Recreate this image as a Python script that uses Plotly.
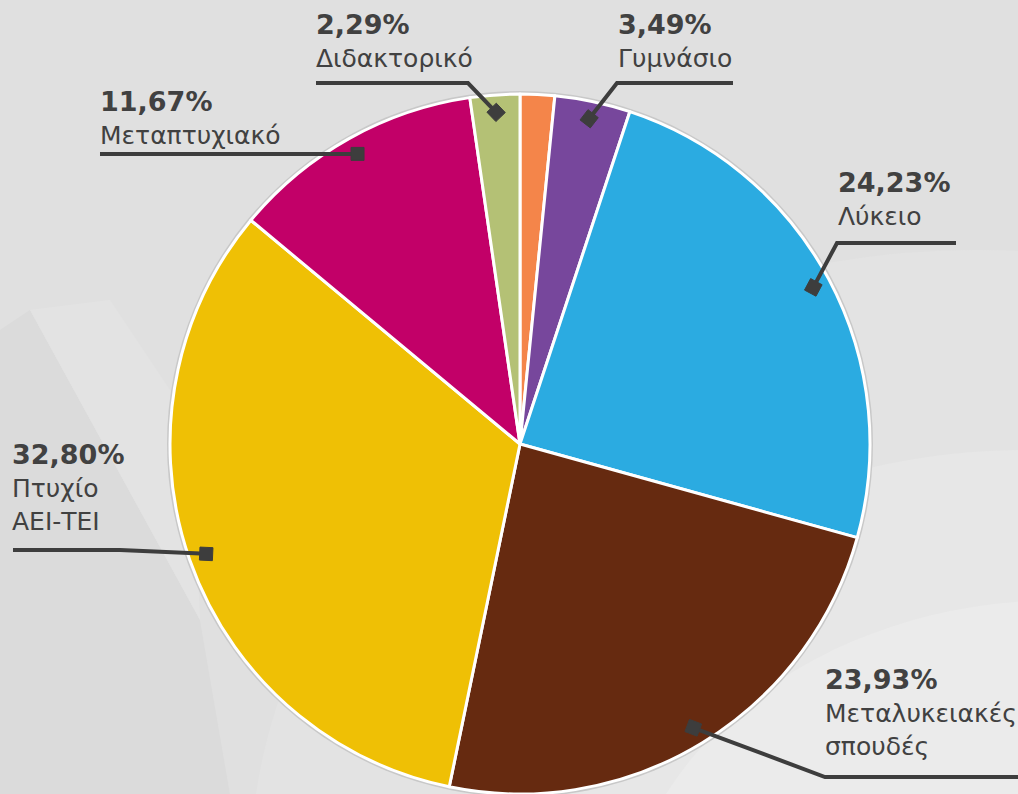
import math
import plotly.graph_objects as go

# ---------------- data ----------------
categories = ["Δημοτικό", "Γυμνάσιο", "Λύκειο", "Μεταλυκειακές σπουδές",
              "Πτυχίο ΑΕΙ-ΤΕΙ", "Μεταπτυχιακό", "Διδακτορικό"]
values = [1.59, 3.49, 24.23, 23.93, 32.80, 11.67, 2.29]
pct_labels = ["", "3,49%", "24,23%", "23,93%", "32,80%", "11,67%", "2,29%"]
name_labels = ["", "Γυμνάσιο", "Λύκειο", "Μεταλυκειακές<br>σπουδές",
               "Πτυχίο<br>ΑΕΙ-ΤΕΙ", "Μεταπτυχιακό", "Διδακτορικό"]
colors = ["#F4854A", "#77479C", "#2BABE1", "#662A10", "#EFC005", "#C20068", "#B4C175"]

# ---------------- layout geometry (pixels) ----------------
W, H = 1018, 794
CX, CY, R = 520, 444, 350
TEXT = "#414141"
LINE = "#3d3d3d"

# label placement: text x, text top y, elbow point, end of horizontal line
label_layout = {
    1: dict(tx=619, ty=15, elbow=(617, 83), end=(733, 83)),
    2: dict(tx=839, ty=173, elbow=(837, 243), end=(956, 243)),
    3: dict(tx=826, ty=670, elbow=(825, 777), end=(1018, 777)),
    4: dict(tx=13, ty=445, elbow=(120, 550), end=(13, 550)),
    5: dict(tx=101, ty=92, elbow=None, end=(100, 159)),
    6: dict(tx=317, ty=15, elbow=(468, 83), end=(316, 83)),
}


def px(x):
    return x / W


def py(y):
    return 1 - y / H


def poly(points):
    return "M " + " L ".join(f"{px(a):.5f},{py(b):.5f}" for a, b in points) + " Z"


fig = go.Figure()

fig.add_trace(go.Pie(
    labels=categories,
    values=values,
    sort=False,
    direction="clockwise",
    rotation=0,
    marker=dict(colors=colors, line=dict(color="white", width=3)),
    textinfo="none",
    hovertemplate="%{label}: %{value:.2f}%<extra></extra>",
    showlegend=False,
    domain=dict(x=[px(CX - R), px(CX + R)], y=[py(CY + R), py(CY - R)]),
))

shapes = []
annotations = []

# subtle background: lighter lower-right, darker left side with a soft swoosh
shapes.append(dict(type="circle", xref="paper", yref="paper", layer="below",
                   x0=px(250), x1=px(1700), y0=py(1500), y1=py(250),
                   fillcolor="#e3e3e3", line=dict(width=0)))
shapes.append(dict(type="circle", xref="paper", yref="paper", layer="below",
                   x0=px(450), x1=px(1600), y0=py(1400), y1=py(450),
                   fillcolor="#e7e7e7", line=dict(width=0)))
shapes.append(dict(type="circle", xref="paper", yref="paper", layer="below",
                   x0=px(620), x1=px(1500), y0=py(1300), y1=py(600),
                   fillcolor="#ebebeb", line=dict(width=0)))
shapes.append(dict(type="path", xref="paper", yref="paper", layer="below",
                   path=poly([(0, 330), (30, 310), (200, 620), (230, 794), (0, 794)]),
                   fillcolor="#dbdbdb", line=dict(width=0)))
shapes.append(dict(type="path", xref="paper", yref="paper", layer="below",
                   path=poly([(30, 310), (110, 300), (190, 420), (200, 620)]),
                   fillcolor="#e3e3e3", line=dict(width=0)))
# faint shadow ring around the pie
shapes.append(dict(type="circle", xref="paper", yref="paper", layer="below",
                   x0=px(CX - R - 3), x1=px(CX + R + 3), y0=py(CY + R + 3), y1=py(CY - R - 3),
                   fillcolor="#c8c8c8", line=dict(width=0)))

total = sum(values)
cum = 0.0
for i, v in enumerate(values):
    mid = (cum + v / 2) / total * 2 * math.pi
    cum += v
    if i not in label_layout:
        continue
    L = label_layout[i]
    r = 0.95 * R
    mx = CX + r * math.sin(mid)
    my = CY - r * math.cos(mid)
    pts = [(mx, my)]
    if L["elbow"] is not None:
        pts.append(L["elbow"])
        pts.append(L["end"])
    else:
        pts.append((L["end"][0], my))
    path = "M " + " L ".join(f"{px(a):.5f},{py(b):.5f}" for a, b in pts)
    shapes.append(dict(type="path", xref="paper", yref="paper", layer="above",
                       path=path, line=dict(color=LINE, width=4)))
    # square marker aligned with the leader segment
    nx, ny = pts[1]
    ang = math.atan2(ny - my, nx - mx)
    h = 6.5
    corners = []
    for dx, dy in [(-h, -h), (h, -h), (h, h), (-h, h)]:
        corners.append((mx + dx * math.cos(ang) - dy * math.sin(ang),
                        my + dx * math.sin(ang) + dy * math.cos(ang)))
    shapes.append(dict(type="path", xref="paper", yref="paper", layer="above",
                       path=poly(corners), fillcolor=LINE, line=dict(color=LINE, width=1)))

    annotations.append(dict(
        x=px(L["tx"] - 3), y=py(L["ty"] - 8), xref="paper", yref="paper",
        xanchor="left", yanchor="top", showarrow=False, align="left",
        text=f"<b>{pct_labels[i]}</b>",
        font=dict(family="DejaVu Sans", size=27, color=TEXT)))
    annotations.append(dict(
        x=px(L["tx"] - 3), y=py(L["ty"] + 27), xref="paper", yref="paper",
        xanchor="left", yanchor="top", showarrow=False, align="left",
        text=name_labels[i],
        font=dict(family="DejaVu Sans", size=25, color=TEXT)))

fig.update_layout(
    width=W, height=H,
    margin=dict(l=0, r=0, t=0, b=0),
    paper_bgcolor="#e0e0e0",
    plot_bgcolor="#e0e0e0",
    shapes=shapes,
    annotations=annotations,
    showlegend=False,
)

fig.write_html("out.html",
               config={"displayModeBar": False},
               post_script="document.body.style.margin='0';document.body.style.overflow='hidden';")
